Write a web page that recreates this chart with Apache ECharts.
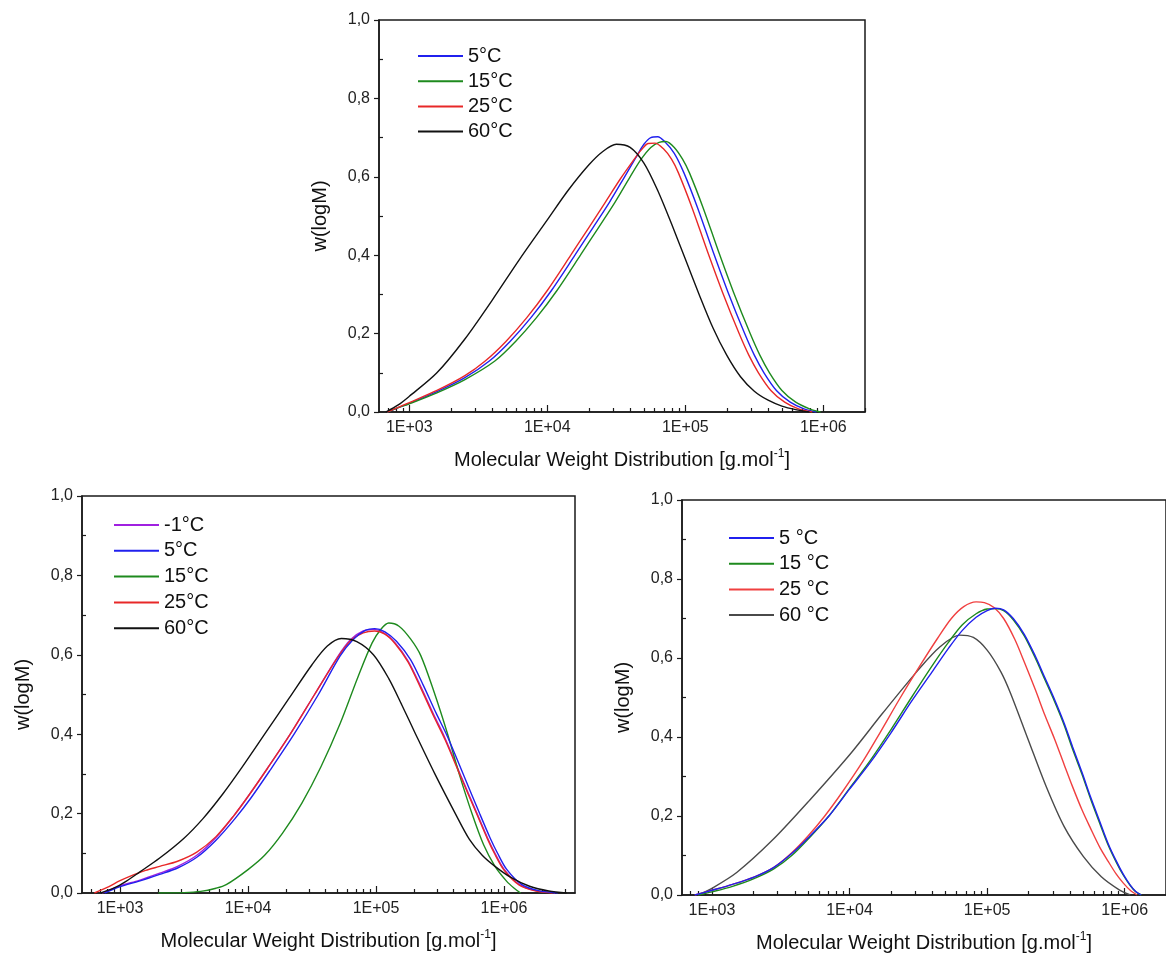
<!DOCTYPE html>
<html><head><meta charset="utf-8">
<script src="https://cdn.jsdelivr.net/npm/echarts@6/dist/echarts.min.js"></script>
<style>html,body{margin:0;padding:0;background:#fff}#c{width:1166px;height:956px}</style>
</head><body><div id="c"></div>
<script>
// ---------- DATA: pairs of [log10(M), w(logM)] ----------
// Top panel
const top_5C = [[2.84,0],[2.92,0.011],[3.0,0.022],[3.2,0.052],[3.4,0.087],[3.58,0.13],[3.73,0.18],[3.88,0.24],[4.03,0.31],[4.2,0.4],[4.33,0.47],[4.45,0.535],[4.56,0.6],[4.64,0.648],[4.7,0.683],[4.75,0.7],[4.8,0.702],[4.85,0.69],[4.92,0.66],[4.99,0.61],[5.09,0.52],[5.2,0.41],[5.31,0.305],[5.43,0.2],[5.5,0.145],[5.57,0.1],[5.66,0.055],[5.76,0.025],[5.86,0.008],[5.95,0]];
const top_15C = [[2.84,0],[2.92,0.011],[3.0,0.021],[3.2,0.049],[3.4,0.082],[3.62,0.13],[3.77,0.18],[3.92,0.24],[4.07,0.31],[4.24,0.4],[4.37,0.47],[4.49,0.535],[4.6,0.6],[4.68,0.645],[4.75,0.675],[4.81,0.688],[4.86,0.69],[4.92,0.675],[4.98,0.645],[5.03,0.61],[5.13,0.52],[5.24,0.41],[5.35,0.305],[5.47,0.2],[5.54,0.145],[5.61,0.1],[5.7,0.055],[5.8,0.025],[5.9,0.008],[5.98,0]];
const top_25C = [[2.84,0],[2.92,0.012],[3.0,0.024],[3.2,0.055],[3.4,0.092],[3.55,0.13],[3.7,0.18],[3.85,0.24],[4.0,0.31],[4.17,0.4],[4.3,0.47],[4.42,0.535],[4.53,0.595],[4.62,0.64],[4.68,0.668],[4.73,0.685],[4.78,0.686],[4.84,0.672],[4.9,0.645],[4.95,0.61],[5.05,0.52],[5.16,0.41],[5.27,0.305],[5.39,0.2],[5.46,0.145],[5.53,0.1],[5.62,0.055],[5.72,0.025],[5.82,0.008],[5.92,0]];
const top_60C = [[2.83,0],[2.92,0.018],[3.0,0.04],[3.2,0.1],[3.4,0.185],[3.6,0.285],[3.8,0.39],[4.0,0.49],[4.15,0.565],[4.3,0.63],[4.4,0.664],[4.5,0.683],[4.6,0.675],[4.7,0.635],[4.8,0.565],[4.9,0.48],[5.0,0.39],[5.1,0.3],[5.2,0.215],[5.3,0.145],[5.4,0.09],[5.5,0.053],[5.6,0.03],[5.7,0.015],[5.8,0.006],[5.9,0]];

// Bottom-left panel
const bl_m1C = [[2.86,0],[3.0,0.018],[3.15,0.032],[3.31,0.05],[3.45,0.067],[3.6,0.095],[3.75,0.14],[3.89,0.195],[4.0,0.243],[4.15,0.313],[4.33,0.4],[4.52,0.5],[4.7,0.595],[4.8,0.638],[4.9,0.66],[4.98,0.664],[5.06,0.655],[5.15,0.63],[5.25,0.585],[5.35,0.52],[5.45,0.45],[5.54,0.39],[5.67,0.29],[5.79,0.2],[5.87,0.14],[5.93,0.1],[6.0,0.06],[6.12,0.021],[6.25,0.006],[6.4,0]];
const bl_5C = [[2.88,0],[3.0,0.016],[3.15,0.03],[3.31,0.047],[3.45,0.063],[3.6,0.09],[3.75,0.133],[3.9,0.188],[4.02,0.238],[4.17,0.308],[4.36,0.4],[4.55,0.5],[4.72,0.597],[4.82,0.638],[4.92,0.662],[4.99,0.666],[5.07,0.658],[5.16,0.634],[5.27,0.588],[5.37,0.523],[5.47,0.453],[5.56,0.393],[5.69,0.293],[5.81,0.2],[5.89,0.14],[5.95,0.1],[6.02,0.06],[6.14,0.021],[6.27,0.006],[6.42,0]];
const bl_15C = [[3.3,0],[3.5,0.001],[3.63,0.004],[3.75,0.012],[3.83,0.021],[4.0,0.059],[4.13,0.095],[4.27,0.151],[4.42,0.226],[4.57,0.318],[4.72,0.427],[4.86,0.545],[4.97,0.63],[5.04,0.665],[5.1,0.68],[5.18,0.672],[5.27,0.64],[5.35,0.598],[5.45,0.51],[5.56,0.4],[5.65,0.3],[5.75,0.2],[5.84,0.122],[5.93,0.067],[6.02,0.03],[6.08,0.012],[6.13,0]];
const bl_25C = [[2.8,0],[2.9,0.014],[3.0,0.031],[3.1,0.045],[3.2,0.057],[3.31,0.067],[3.45,0.08],[3.6,0.103],[3.75,0.142],[3.89,0.195],[4.0,0.243],[4.15,0.313],[4.33,0.4],[4.52,0.5],[4.7,0.593],[4.8,0.635],[4.9,0.655],[4.99,0.66],[5.07,0.652],[5.15,0.628],[5.25,0.582],[5.35,0.516],[5.45,0.446],[5.54,0.386],[5.67,0.287],[5.79,0.197],[5.87,0.137],[5.93,0.097],[6.0,0.058],[6.12,0.02],[6.25,0.005],[6.38,0]];
const bl_60C = [[2.85,0],[2.95,0.012],[3.05,0.03],[3.15,0.052],[3.31,0.088],[3.5,0.138],[3.65,0.188],[3.8,0.248],[3.95,0.315],[4.13,0.4],[4.32,0.49],[4.5,0.575],[4.62,0.622],[4.73,0.641],[4.85,0.633],[4.98,0.6],[5.1,0.54],[5.2,0.475],[5.31,0.4],[5.46,0.3],[5.62,0.2],[5.73,0.135],[5.83,0.095],[5.93,0.067],[6.05,0.04],[6.2,0.017],[6.35,0.005],[6.49,0]];

// Bottom-right panel
const br_5C = [[2.875,0],[3.0,0.012],[3.15,0.027],[3.31,0.046],[3.45,0.07],[3.58,0.105],[3.7,0.145],[3.85,0.2],[4.0,0.268],[4.15,0.335],[4.3,0.41],[4.45,0.49],[4.6,0.565],[4.72,0.625],[4.82,0.67],[4.92,0.703],[5.0,0.72],[5.06,0.726],[5.12,0.722],[5.19,0.7],[5.27,0.66],[5.35,0.605],[5.42,0.55],[5.49,0.495],[5.56,0.435],[5.62,0.376],[5.69,0.31],[5.75,0.25],[5.82,0.185],[5.88,0.13],[5.94,0.085],[5.99,0.052],[6.04,0.025],[6.08,0.009],[6.12,0]];
const br_15C = [[2.9,0],[3.0,0.008],[3.15,0.022],[3.31,0.042],[3.45,0.066],[3.58,0.1],[3.7,0.142],[3.85,0.2],[4.0,0.27],[4.15,0.34],[4.3,0.418],[4.45,0.5],[4.6,0.58],[4.72,0.64],[4.82,0.684],[4.92,0.712],[5.0,0.724],[5.06,0.725],[5.12,0.72],[5.19,0.697],[5.27,0.656],[5.35,0.6],[5.42,0.545],[5.49,0.49],[5.56,0.43],[5.62,0.37],[5.69,0.305],[5.75,0.245],[5.82,0.18],[5.88,0.126],[5.94,0.082],[5.99,0.05],[6.04,0.024],[6.08,0.008],[6.12,0]];
const br_25C = [[2.875,0],[3.0,0.012],[3.15,0.027],[3.31,0.046],[3.45,0.07],[3.58,0.107],[3.7,0.15],[3.82,0.2],[3.95,0.262],[4.1,0.34],[4.22,0.41],[4.37,0.5],[4.52,0.585],[4.64,0.65],[4.74,0.7],[4.83,0.73],[4.92,0.742],[4.98,0.74],[5.05,0.728],[5.12,0.7],[5.2,0.648],[5.27,0.59],[5.35,0.52],[5.42,0.455],[5.49,0.395],[5.56,0.33],[5.62,0.275],[5.69,0.215],[5.75,0.17],[5.82,0.12],[5.88,0.085],[5.94,0.052],[5.99,0.03],[6.04,0.012],[6.09,0]];
const br_60C = [[2.9,0],[3.0,0.017],[3.18,0.057],[3.44,0.139],[3.71,0.24],[4.01,0.359],[4.24,0.46],[4.5,0.57],[4.66,0.629],[4.8,0.658],[4.9,0.652],[5.0,0.62],[5.1,0.565],[5.17,0.511],[5.3,0.392],[5.43,0.274],[5.56,0.173],[5.7,0.097],[5.83,0.046],[5.96,0.013],[6.04,0]];

// Tick labels
const xMajorTicks = [3, 4, 5, 6];            // log10 of 1E+03 ... 1E+06
const xTickLabels = ['1E+03', '1E+04', '1E+05', '1E+06'];
const yMinorTicks = [0.1, 0.3, 0.5, 0.7, 0.9];

const topNames = ['5°C', '15°C', '25°C', '60°C'];
const blNames = ['-1°C', '5°C', '15°C', '25°C', '60°C'];
const brNames = ['5 °C', '15 °C', '25 °C', '60 °C'];

// ---------- CHART ----------
const FONT = "'Liberation Sans', Arial, Helvetica, sans-serif";
const AX = '#1a1a1a';

function minorTicks(min, max) {
  const out = [];
  for (let n = 2; n <= 6; n++) for (let k = 2; k <= 9; k++) {
    const v = n + Math.log10(k);
    if (v > min && v < max) out.push(v);
  }
  return out;
}

const panels = [
  { grid: {left: 379, top: 20, width: 486, height: 392}, xmin: 2.7804, xmax: 6.302,
    legend: {left: 418, top: 46, gap: 5.2, names: topNames},
    series: [[topNames[0], top_5C, '#2020ee'], [topNames[1], top_15C, '#1e8a1e'], [topNames[2], top_25C, '#e82828'], [topNames[3], top_60C, '#111111']] },
  { grid: {left: 82, top: 496, width: 493, height: 397}, xmin: 2.703, xmax: 6.555,
    legend: {left: 114, top: 515, gap: 5.8, names: blNames},
    series: [[blNames[0], bl_m1C, '#a020e0'], [blNames[2], bl_15C, '#1e8a1e'], [blNames[3], bl_25C, '#e82828'], [blNames[1], bl_5C, '#2020ee'], [blNames[4], bl_60C, '#111111']] },
  { grid: {left: 682, top: 500, width: 496, height: 395}, xmin: 2.7824, xmax: 6.3,
    legend: {left: 729, top: 528, gap: 5.7, names: brNames},
    series: [[brNames[3], br_60C, '#4a4a4a'], [brNames[2], br_25C, '#f04040'], [brNames[1], br_15C, '#1e8a1e'], [brNames[0], br_5C, '#2020ee']] }
];

const option = { animation: false, backgroundColor: '#fff', grid: [], xAxis: [], yAxis: [], legend: [], series: [] };

panels.forEach((p, i) => {
  option.grid.push(Object.assign({ show: true, borderColor: AX, borderWidth: 1.5, backgroundColor: 'transparent', containLabel: false }, p.grid));
  const xName = '{a|Molecular Weight Distribution [g.mol}{s|-1}{a|]}';
  option.xAxis.push({
    gridIndex: i, type: 'value', position: 'bottom', min: p.xmin, max: p.xmax,
    axisLine: { show: true, onZero: false, lineStyle: { color: AX, width: 1.5 } },
    axisTick: { show: true, inside: true, length: 7, customValues: xMajorTicks, lineStyle: { color: AX, width: 1.2 } },
    axisLabel: { customValues: xMajorTicks, formatter: v => xTickLabels[xMajorTicks.indexOf(Math.round(v))] || '',
                 fontSize: 16, fontFamily: FONT, color: '#222', margin: 8 },
    splitLine: { show: false },
    name: xName, nameLocation: 'middle', nameGap: 36,
    nameTextStyle: { fontFamily: FONT, color: '#111',
      rich: { a: { fontSize: 20, fontFamily: FONT, color: '#111', lineHeight: 24 },
              s: { fontSize: 12, fontFamily: FONT, color: '#111', lineHeight: 12, verticalAlign: 'top' } } }
  });
  option.xAxis.push({
    gridIndex: i, type: 'value', position: 'bottom', min: p.xmin, max: p.xmax,
    axisLine: { show: false },
    axisTick: { show: true, inside: true, length: 4, customValues: minorTicks(p.xmin, p.xmax), lineStyle: { color: AX, width: 1.2 } },
    axisLabel: { show: false }, splitLine: { show: false }
  });
  option.yAxis.push({
    gridIndex: i, type: 'value', position: 'left', min: 0, max: 1, interval: 0.2,
    axisLine: { show: true, onZero: false, lineStyle: { color: AX, width: 1.5 } },
    axisTick: { show: true, inside: false, length: 5, lineStyle: { color: AX, width: 1.2 } },
    axisLabel: { formatter: v => v.toFixed(1).replace('.', ','), fontSize: 16, fontFamily: FONT, color: '#222', margin: 9 },
    splitLine: { show: false },
    name: 'w(logM)', nameLocation: 'middle', nameGap: 49, nameRotate: 90,
    nameTextStyle: { fontSize: 20, fontFamily: FONT, color: '#111' }
  });
  option.yAxis.push({
    gridIndex: i, type: 'value', position: 'left', min: 0, max: 1, interval: 0.1,
    axisLine: { show: false },
    axisTick: { show: true, inside: true, length: 4, customValues: yMinorTicks, lineStyle: { color: AX, width: 1.2 } },
    axisLabel: { show: false }, splitLine: { show: false }
  });
  option.legend.push({
    orient: 'vertical', left: p.legend.left, top: p.legend.top, padding: 0, itemGap: p.legend.gap,
    itemWidth: 45, itemHeight: 2, icon: 'rect', selectedMode: false, data: p.legend.names,
    textStyle: { fontSize: 20, fontFamily: FONT, color: '#111', lineHeight: 20 }
  });
  p.series.forEach(s => {
    option.series.push({
      name: s[0], type: 'line', xAxisIndex: 2 * i, yAxisIndex: 2 * i,
      data: s[1], showSymbol: false, symbol: 'none', smooth: 0.3,
      lineStyle: { color: s[2], width: 1.4 }, itemStyle: { color: s[2] },
      emphasis: { disabled: true }, z: 3
    });
  });
});

const chart = echarts.init(document.getElementById('c'), null, { renderer: 'canvas' });
chart.setOption(option);
</script>
</body></html>
